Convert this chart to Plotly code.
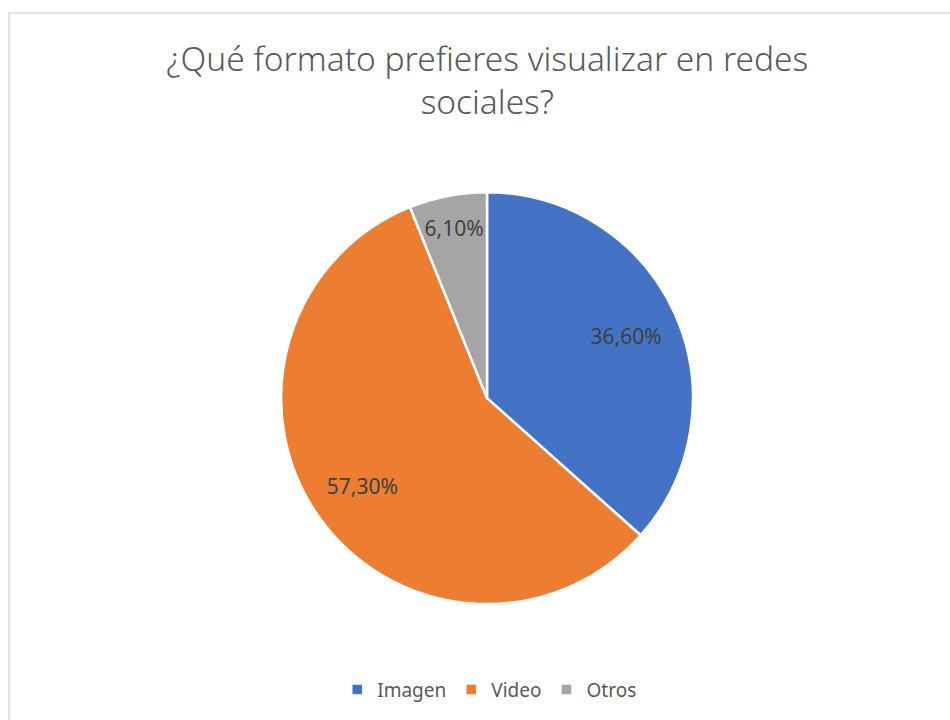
import plotly.graph_objects as go

# categorias y porcentajes
categorias = ["Imagen", "Video", "Otros"]
porcentajes = [36.6, 57.3, 6.1]
colores = ["#4472C4", "#ED7D31", "#A5A5A5"]

etiquetas = [f"{v:.2f}".replace(".", ",") + "%" for v in porcentajes]

dominio = dict(x=[0.2958, 0.7295], y=[0.161, 0.733])

fig = go.Figure()

# tarta principal (sin texto)
fig.add_trace(
    go.Pie(
        labels=categorias,
        values=porcentajes,
        textinfo="none",
        marker=dict(colors=colores, line=dict(color="white", width=2.5)),
        sort=False,
        direction="clockwise",
        rotation=0,
        domain=dominio,
        hoverinfo="label+percent",
    )
)

# capa transparente con hueco: coloca las etiquetas mas hacia el borde
fig.add_trace(
    go.Pie(
        labels=categorias,
        values=porcentajes,
        text=etiquetas,
        textinfo="text",
        textposition="inside",
        insidetextorientation="horizontal",
        textfont=dict(family="Noto Sans", size=21, color="#404040"),
        marker=dict(colors=["rgba(0,0,0,0)"] * 3, line=dict(width=0)),
        hole=0.48,
        sort=False,
        direction="clockwise",
        rotation=0,
        domain=dominio,
        showlegend=False,
        hoverinfo="skip",
    )
)

# marco del grafico (solo borde superior e izquierdo visibles)
borde = dict(type="line", xref="paper", yref="paper", line=dict(color="#D9D9D9", width=1.5))

fig.update_layout(
    width=950,
    height=720,
    margin=dict(l=0, r=0, t=0, b=0),
    paper_bgcolor="white",
    font=dict(family="Noto Sans", color="#595959"),
    title=dict(
        text="¿Qué formato prefieres visualizar en redes<br>sociales?",
        x=0.513,
        xanchor="center",
        y=0.9015,
        yanchor="middle",
        font=dict(family="Noto Sans", size=33.5, color="#595959", weight=300),
    ),
    legend=dict(
        orientation="h",
        x=0.515,
        xanchor="center",
        y=0.042,
        yanchor="middle",
        font=dict(family="Noto Sans", size=19, color="#595959"),
        itemwidth=30,
        traceorder="normal",
    ),
    shapes=[
        dict(borde, x0=9 / 950, x1=1, y0=1 - 13 / 720, y1=1 - 13 / 720),
        dict(borde, x0=9 / 950, x1=9 / 950, y0=0, y1=1 - 13 / 720),
    ],
)

fig.write_html(
    "out.html",
    config={"displayModeBar": False},
    post_script="document.body.style.margin='0';document.body.style.overflow='hidden';",
)
